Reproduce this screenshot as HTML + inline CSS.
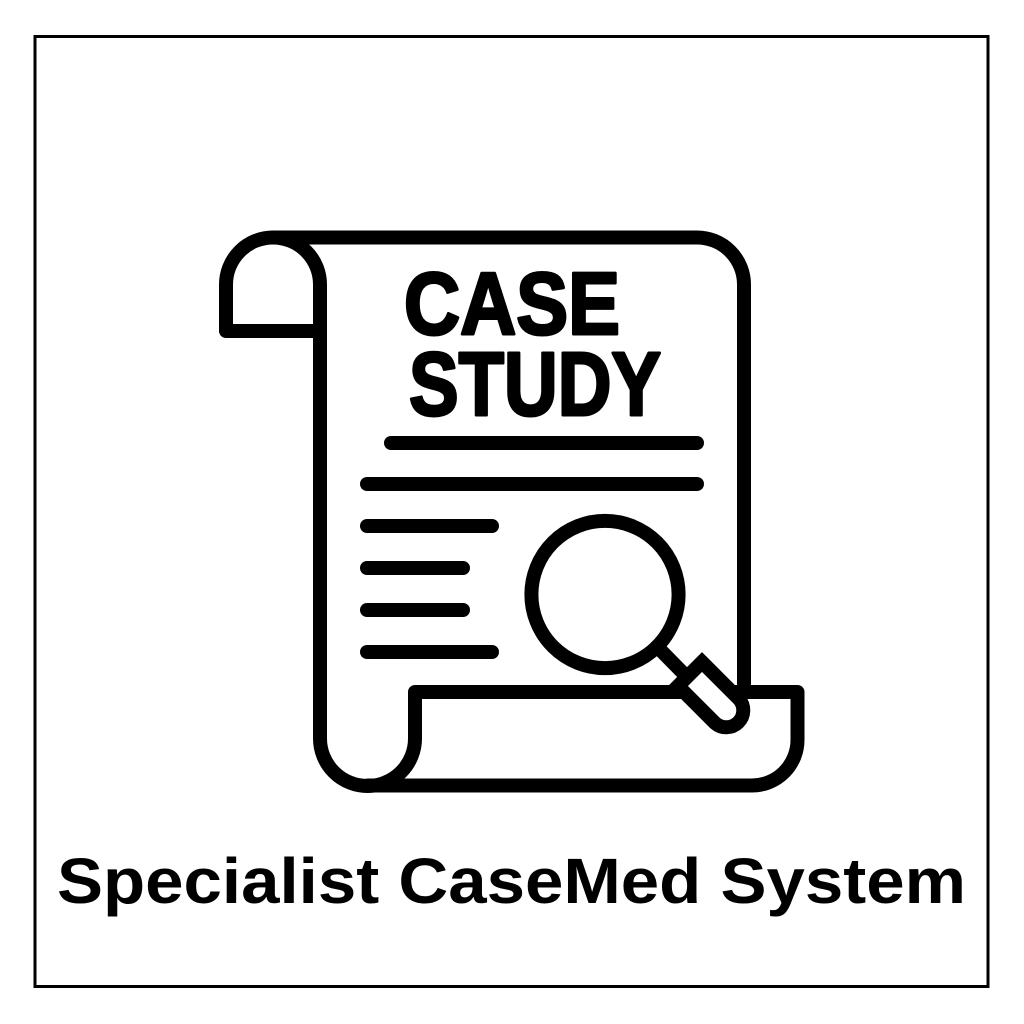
<!DOCTYPE html>
<html><head><meta charset="utf-8"><style>html,body{margin:0;padding:0;background:#fff}svg{display:block}</style></head>
<body>
<svg width="1024" height="1024" viewBox="0 0 1024 1024" xmlns="http://www.w3.org/2000/svg">
<rect x="0" y="0" width="1024" height="1024" fill="#fff"/>
<rect x="35" y="36.5" width="953" height="950" fill="none" stroke="#000" stroke-width="3"/>
<g fill="none" stroke="#000" stroke-width="14" stroke-linejoin="round" stroke-linecap="round">
  <path d="M320 331 L226 331 L226 284.5 A47 47 0 0 1 273 237.5 L697 237.5 A47 47 0 0 1 744 284.5 L744 692"/>
  <path d="M273 237.5 A47 47 0 0 1 320 284.5 L320 738.5 A47.5 47.5 0 0 0 415 738.5 L415 692 L797.5 692 L797.5 740 A45.5 45.5 0 0 1 752 785.5 L368 785.5"/>
  <line x1="391" y1="443" x2="697" y2="443"/>
  <line x1="367" y1="484" x2="697" y2="484"/>
  <line x1="367" y1="526" x2="492" y2="526"/>
  <line x1="367" y1="568" x2="463" y2="568"/>
  <line x1="367" y1="610" x2="463" y2="610"/>
  <line x1="367" y1="652" x2="492" y2="652"/>
  <circle cx="605" cy="594.5" r="73.6"/>
  <line x1="657" y1="646.5" x2="684" y2="674"/>
  <path d="M702 662 L739 699 A17 17 0 0 1 715 723 L678 686 Z" fill="#fff" stroke-linejoin="miter"/>
</g>
<g font-family="'Liberation Sans', 'DejaVu Sans', sans-serif" font-weight="bold" fill="#000">
  <text x="404" y="334" font-size="88" textLength="216" lengthAdjust="spacingAndGlyphs" stroke="#000" stroke-width="3" stroke-linejoin="round">CASE</text>
  <text x="409" y="415" font-size="90" textLength="252" lengthAdjust="spacingAndGlyphs" stroke="#000" stroke-width="3" stroke-linejoin="round">STUDY</text>
  <text x="57" y="903" font-size="64" textLength="909" lengthAdjust="spacingAndGlyphs">Specialist CaseMed System</text>
</g>
</svg>
</body></html>
